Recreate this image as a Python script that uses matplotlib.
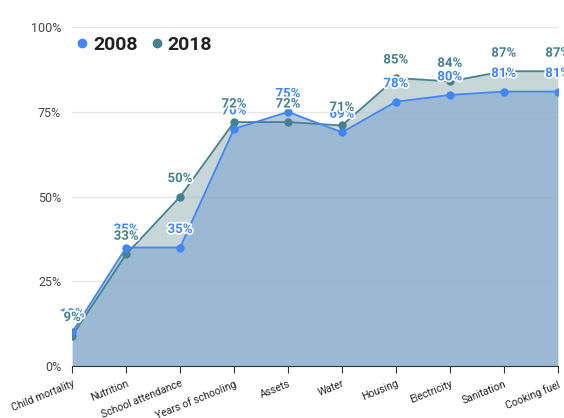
import matplotlib.pyplot as plt
import matplotlib.patheffects as pe
from matplotlib.ticker import FuncFormatter
from matplotlib.lines import Line2D

# data
categories = ['Child mortality', 'Nutrition', 'School attendance', 'Years of schooling',
              'Assets', 'Water', 'Housing', 'Electricity', 'Sanitation', 'Cooking fuel']
share_2008 = [10, 35, 35, 70, 75, 69, 78, 80, 81, 81]
share_2018 = [9, 33, 50, 72, 72, 71, 85, 84, 87, 87]
y_ticks = [0, 25, 50, 75, 100]

c08 = '#4285f4'
c18 = '#45818e'

plt.rcParams['font.family'] = ['Roboto', 'DejaVu Sans']

fig = plt.figure(figsize=(5.64, 4.18), dpi=100)
ax = fig.add_axes([0.128, 0.124, 0.861, 0.811])

x = range(len(categories))

ax.fill_between(x, share_2018, 0, color='#a3bbbe', alpha=0.6, linewidth=0, zorder=2)
ax.fill_between(x, share_2008, 0, color='#80a6d1', alpha=0.6, linewidth=0, zorder=3)
ax.plot(x, share_2018, color=c18, lw=1.3, marker='o', ms=5, zorder=4)
ax.plot(x, share_2008, color=c08, lw=1.3, marker='o', ms=5, zorder=5)

halo = [pe.withStroke(linewidth=2.5, foreground='white')]
for i in x:
    ax.annotate(f'{share_2018[i]}%', (i, share_2018[i]), xytext=(0, 13), textcoords='offset points',
                ha='center', va='center', fontsize=9.5, fontweight='bold', color=c18,
                path_effects=halo, zorder=7, annotation_clip=False)
    ax.annotate(f'{share_2008[i]}%', (i, share_2008[i]), xytext=(0, 13), textcoords='offset points',
                ha='center', va='center', fontsize=9.5, fontweight='bold', color=c08,
                path_effects=halo, zorder=6, annotation_clip=False)

ax.set_xlim(0, len(categories) - 1)
ax.set_ylim(0, 100)
ax.set_yticks(y_ticks)
ax.yaxis.set_major_formatter(FuncFormatter(lambda v, p: f'{v:.0f}%'))
ax.set_xticks(list(x))
ax.set_xticklabels(categories, rotation=22, ha='right', rotation_mode='anchor',
                   fontsize=7.5, color='#222222')
ax.tick_params(axis='y', length=0, labelsize=9, colors='#444444', pad=8)
ax.tick_params(axis='x', length=5, color='#333333', pad=4)
ax.grid(axis='y', color='#e6e6e6', lw=1, zorder=0)
ax.set_axisbelow(True)
for s in ['top', 'right', 'left']:
    ax.spines[s].set_visible(False)
ax.spines['bottom'].set_color('#333333')
ax.spines['bottom'].set_zorder(8)

# legend
handles = [Line2D([], [], color=c08, marker='o', ls='', ms=6),
           Line2D([], [], color=c18, marker='o', ls='', ms=6)]
leg = ax.legend(handles, ['2008', '2018'], loc='upper left', bbox_to_anchor=(-0.035, 1.025), ncol=2,
                frameon=False, handletextpad=0.05, columnspacing=0.5, handlelength=1,
                prop={'size': 14, 'weight': 'bold'})
for t in leg.get_texts():
    t.set_color('#222222')

fig.savefig('out.png', dpi=100)
